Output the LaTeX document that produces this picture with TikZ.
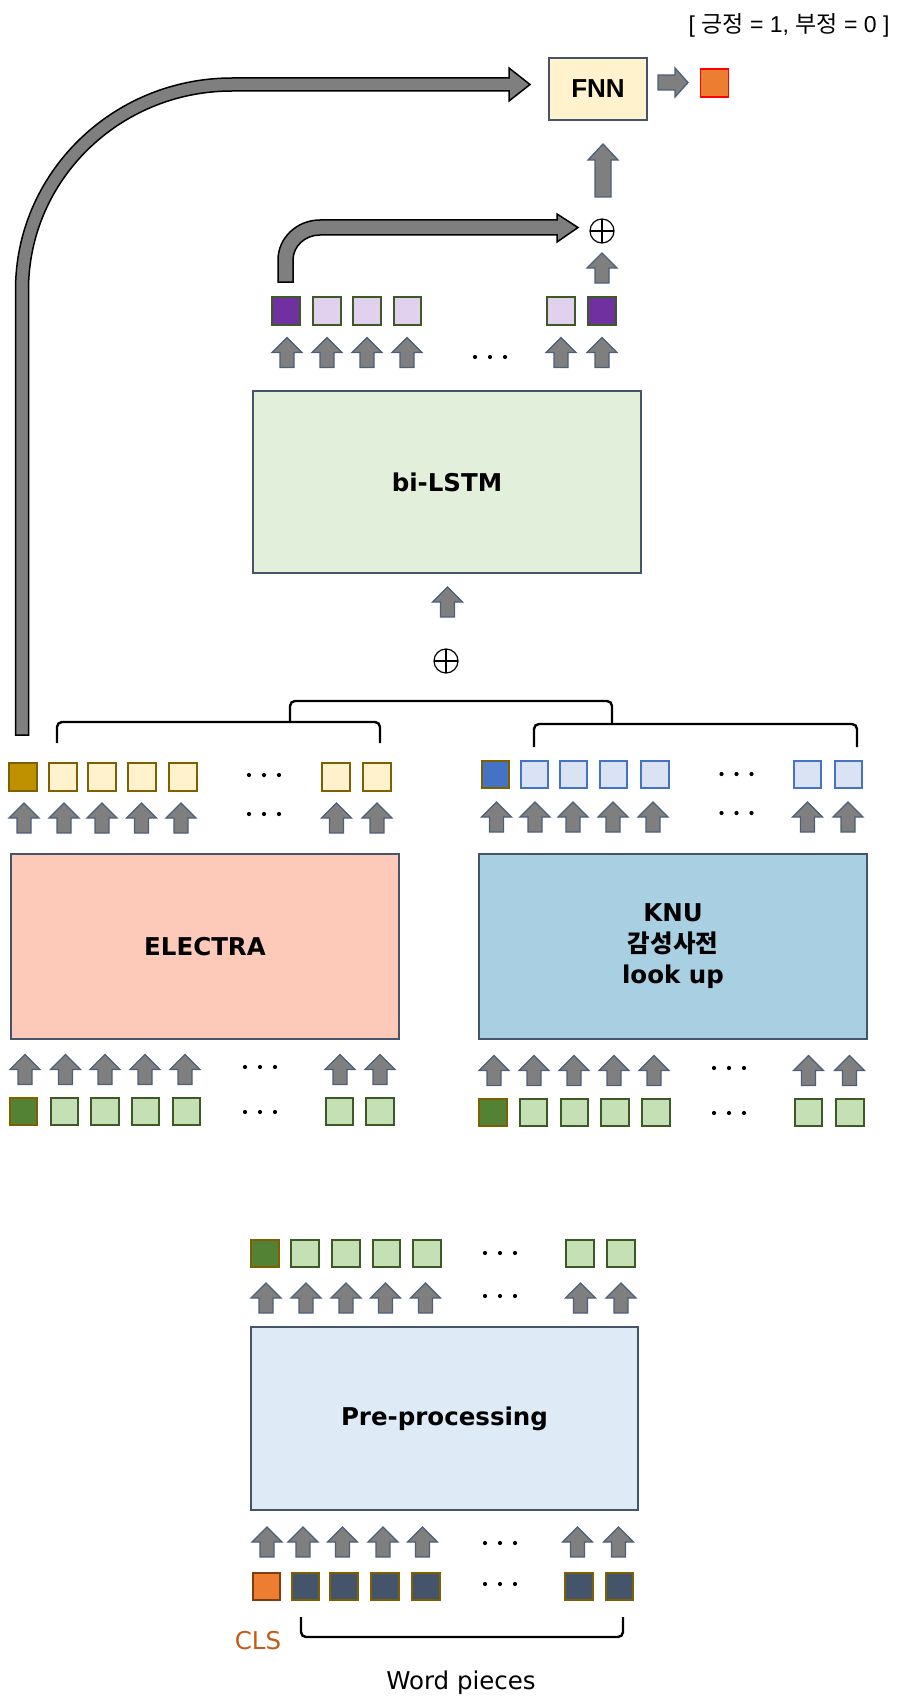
\documentclass[tikz,border=0pt]{standalone}
\usepackage{fontspec}
\setmainfont{DejaVu Sans}
\newfontfamily\krfont{Noto Sans CJK KR}
\newfontfamily\arialfont{Liberation Sans}
\definecolor{slate}{HTML}{4D5F7A}
\definecolor{darkslate}{HTML}{44546A}
\definecolor{arrgray}{HTML}{7F7F7F}
\definecolor{greenedge}{HTML}{3B5A26}
\definecolor{goldedge}{HTML}{7F6000}
\definecolor{lgreen}{HTML}{C5E0B4}
\definecolor{dgreen}{HTML}{548235}
\definecolor{gold}{HTML}{BF9000}
\definecolor{cream}{HTML}{FFF2CC}
\definecolor{knublue}{HTML}{4472C4}
\definecolor{lblue}{HTML}{DAE3F3}
\definecolor{lstmpurple}{HTML}{7030A0}
\definecolor{lavender}{HTML}{E1D0EE}
\definecolor{clsorange}{HTML}{ED7D31}
\definecolor{clsedge}{HTML}{843C0C}
\definecolor{clstext}{HTML}{C55A11}
\definecolor{electrafill}{HTML}{FDC9B8}
\definecolor{knufill}{HTML}{A8CFE2}
\definecolor{lstmfill}{HTML}{E2EFDA}
\definecolor{prefill}{HTML}{DEEBF7}

\tikzset{
  uparr/.pic={\filldraw[fill=arrgray, draw=slate, line width=1.3pt]
    (-7,15) -- (-7,0) -- (-15,0) -- (0,-15) -- (15,0) -- (7,0) -- (7,15) -- cycle;},
  rtarr/.pic={\filldraw[fill=arrgray, draw=slate, line width=1.3pt]
    (-15,-7.5) -- (2,-7.5) -- (2,-14.5) -- (15,0) -- (2,14.5) -- (2,7.5) -- (-15,7.5) -- cycle;},
  tdots/.pic={\foreach \d in {-15,0,15} \fill (\d,0) circle (2.1);},
}

\begin{document}
\begin{tikzpicture}[x=1pt, y=-1pt,
    block/.style={rectangle, draw=darkslate, line width=1.4pt, align=center,
      font=\bfseries\fontsize{24.5}{31}\selectfont},
    tok/.style={rectangle, minimum size=27.5pt, inner sep=0pt, line width=1.8pt},
    lgtok/.style={tok, fill=lgreen, draw=greenedge},
    dgtok/.style={tok, fill=dgreen, draw=goldedge},
    goldtok/.style={tok, fill=gold, draw=goldedge},
    creamtok/.style={tok, fill=cream, draw=goldedge},
    bluetok/.style={tok, fill=knublue, draw=goldedge},
    lbluetok/.style={tok, fill=lblue, draw=knublue},
    purtok/.style={tok, fill=lstmpurple, draw=greenedge},
    lavtok/.style={tok, fill=lavender, draw=greenedge},
    wptok/.style={tok, fill=darkslate, draw=goldedge},
    clstok/.style={tok, fill=clsorange, draw=clsedge},
    oplus/.style={circle, draw, line width=1.2pt, minimum size=24pt, inner sep=0pt,
      path picture={\draw[line width=1.2pt]
        (path picture bounding box.north) -- (path picture bounding box.south)
        (path picture bounding box.west) -- (path picture bounding box.east);}},
    bentarr/.style={fill=arrgray, draw=black, line width=1.5pt},
    bracket/.style={line width=2.4pt, rounded corners=5pt},
    plain/.style={font=\fontsize{24.5}{28}\selectfont},
  ]
  \useasboundingbox (0,0) rectangle (897,1696);

  % =================== FNN and output ===================
  \node[block, font=\arialfont\bfseries\fontsize{26}{30}\selectfont, fill=cream,
    minimum width=98, minimum height=62] (fnn) at (598,89) {FNN};
  \pic at (673,82.5) {rtarr};
  \node[tok, fill=clsorange, draw=red, minimum size=28] (out) at (714.5,83) {};
  \node[font=\arialfont\fontsize{23}{26}\selectfont] (lbl) at (789,25)
    {[ {\krfont 긍정} = 1, {\krfont 부정} = 0 ]};

  % long skip arrow (CLS of ELECTRA -> FNN)
  \filldraw[bentarr] (15.5,735) -- (15.5,290)
    .. controls (15.5,172.9) and (112.4,78) .. (232,78) -- (509,78)
    -- (509,68) -- (530,84.5) -- (509,101) -- (509,91) -- (232,91)
    .. controls (119.6,91) and (28.5,180.1) .. (28.5,290) -- (28.5,735) -- cycle;

  % up arrow into FNN
  \filldraw[fill=arrgray, draw=slate, line width=1.3pt] (595,197) -- (595,160)
    -- (588,160) -- (603,144) -- (618,160) -- (611,160) -- (611,197) -- cycle;

  % short skip arrow (first bi-LSTM state -> sum)
  \node[oplus] (sum2) at (602,231) {};
  \pic at (602,268) {uparr};
  \filldraw[bentarr] (278,282) -- (278,260)
    .. controls (278,237.9) and (296.8,220) .. (320,220) -- (557,220)
    -- (557,214) -- (578,227.5) -- (557,242) -- (557,235) -- (320,235)
    .. controls (305.1,235) and (293,246.2) .. (293,260) -- (293,282) -- cycle;

  % =================== bi-LSTM ===================
  \node[purtok] (lo1) at (286,311) {};
  \foreach \x [count=\i from 2] in {327,367,407.5,561}
    \node[lavtok] (lo\i) at (\x,311) {};
  \node[purtok] (lo6) at (602,311) {};
  \foreach \x in {287,327,367,407,561,602} \pic at (\x,352.5) {uparr};
  \pic at (490,357) {tdots};

  \node[block, fill=lstmfill, minimum width=388, minimum height=182] (lstm)
    at (447,482) {bi-LSTM};
  \pic at (447.5,602) {uparr};
  \node[oplus] (sum1) at (446,661) {};

  % brackets
  \draw[bracket] (290,722) -- (290,701) -- (612,701) -- (612,724);
  \draw[bracket] (57,743) -- (57,722) -- (380,722) -- (380,743);
  \draw[bracket] (534,747) -- (534,724) -- (857,724) -- (857,747);

  % =================== ELECTRA ===================
  \node[goldtok] (eo1) at (23,777) {};
  \foreach \x [count=\i from 2] in {63,102,142,183,336,377}
    \node[creamtok] (eo\i) at (\x,777) {};
  \pic at (264,775) {tdots};
  \foreach \x in {24,64,102,141.5,181,336.5,377} \pic at (\x,818) {uparr};
  \pic at (264,814) {tdots};

  \node[block, fill=electrafill, minimum width=388, minimum height=185] (electra)
    at (205,946.5) {ELECTRA};

  \foreach \x in {25,65.5,105,145,185,340,380} \pic at (\x,1069.5) {uparr};
  \pic at (260,1067) {tdots};
  \node[dgtok] (ei1) at (23.5,1111.5) {};
  \foreach \x [count=\i from 2] in {64.5,105,145.5,186.5,339.5,380}
    \node[lgtok] (ei\i) at (\x,1111.5) {};
  \pic at (260,1112) {tdots};

  % =================== KNU lookup ===================
  \node[bluetok] (ko1) at (495.5,774.5) {};
  \foreach \x [count=\i from 2] in {534.5,573.5,613.5,655,807.5,848.5}
    \node[lbluetok] (ko\i) at (\x,774.5) {};
  \pic at (736.5,774) {tdots};
  \foreach \x in {496.5,535,573,613,653,807.5,848} \pic at (\x,817) {uparr};
  \pic at (736.5,813) {tdots};

  \node[block, fill=knufill, minimum width=388, minimum height=185] (knu)
    at (673,946.5) {KNU\\{\krfont\bfseries 감성사전}\\look up};

  \foreach \x in {494,534,574,614,654,808.5,849.5} \pic at (\x,1070.5) {uparr};
  \pic at (729,1068) {tdots};
  \node[dgtok] (ki1) at (493,1112.5) {};
  \foreach \x [count=\i from 2] in {533.5,574.5,615,656,808.5,850}
    \node[lgtok] (ki\i) at (\x,1112.5) {};
  \pic at (729,1113) {tdots};

  % =================== Pre-processing ===================
  \node[dgtok] (po1) at (265,1253.5) {};
  \foreach \x [count=\i from 2] in {305,346,386.5,427,580,621}
    \node[lgtok] (po\i) at (\x,1253.5) {};
  \pic at (500,1253) {tdots};
  \foreach \x in {266,306,346,385.5,425.5,580.5,621} \pic at (\x,1298) {uparr};
  \pic at (500,1296) {tdots};

  \node[block, fill=prefill, minimum width=387, minimum height=183] (pre)
    at (444.5,1418.5) {Pre-processing};

  \foreach \x in {267,303,342.5,383,422.5,577.5,618.5} \pic at (\x,1542) {uparr};
  \pic at (500,1543) {tdots};
  \node[clstok] (cls) at (266.5,1586.5) {};
  \foreach \x [count=\i from 2] in {305.5,344,385,426,579,619.5}
    \node[wptok] (wp\i) at (\x,1586.5) {};
  \pic at (500,1584) {tdots};

  % word piece brace and labels
  \draw[bracket] (301,1617) -- (301,1637) -- (623,1637) -- (623,1617);
  \node[plain, text=clstext] (clslbl) at (258,1641) {CLS};
  \node[plain] (wplbl) at (461,1683) {Word pieces};

\end{tikzpicture}
\end{document}
